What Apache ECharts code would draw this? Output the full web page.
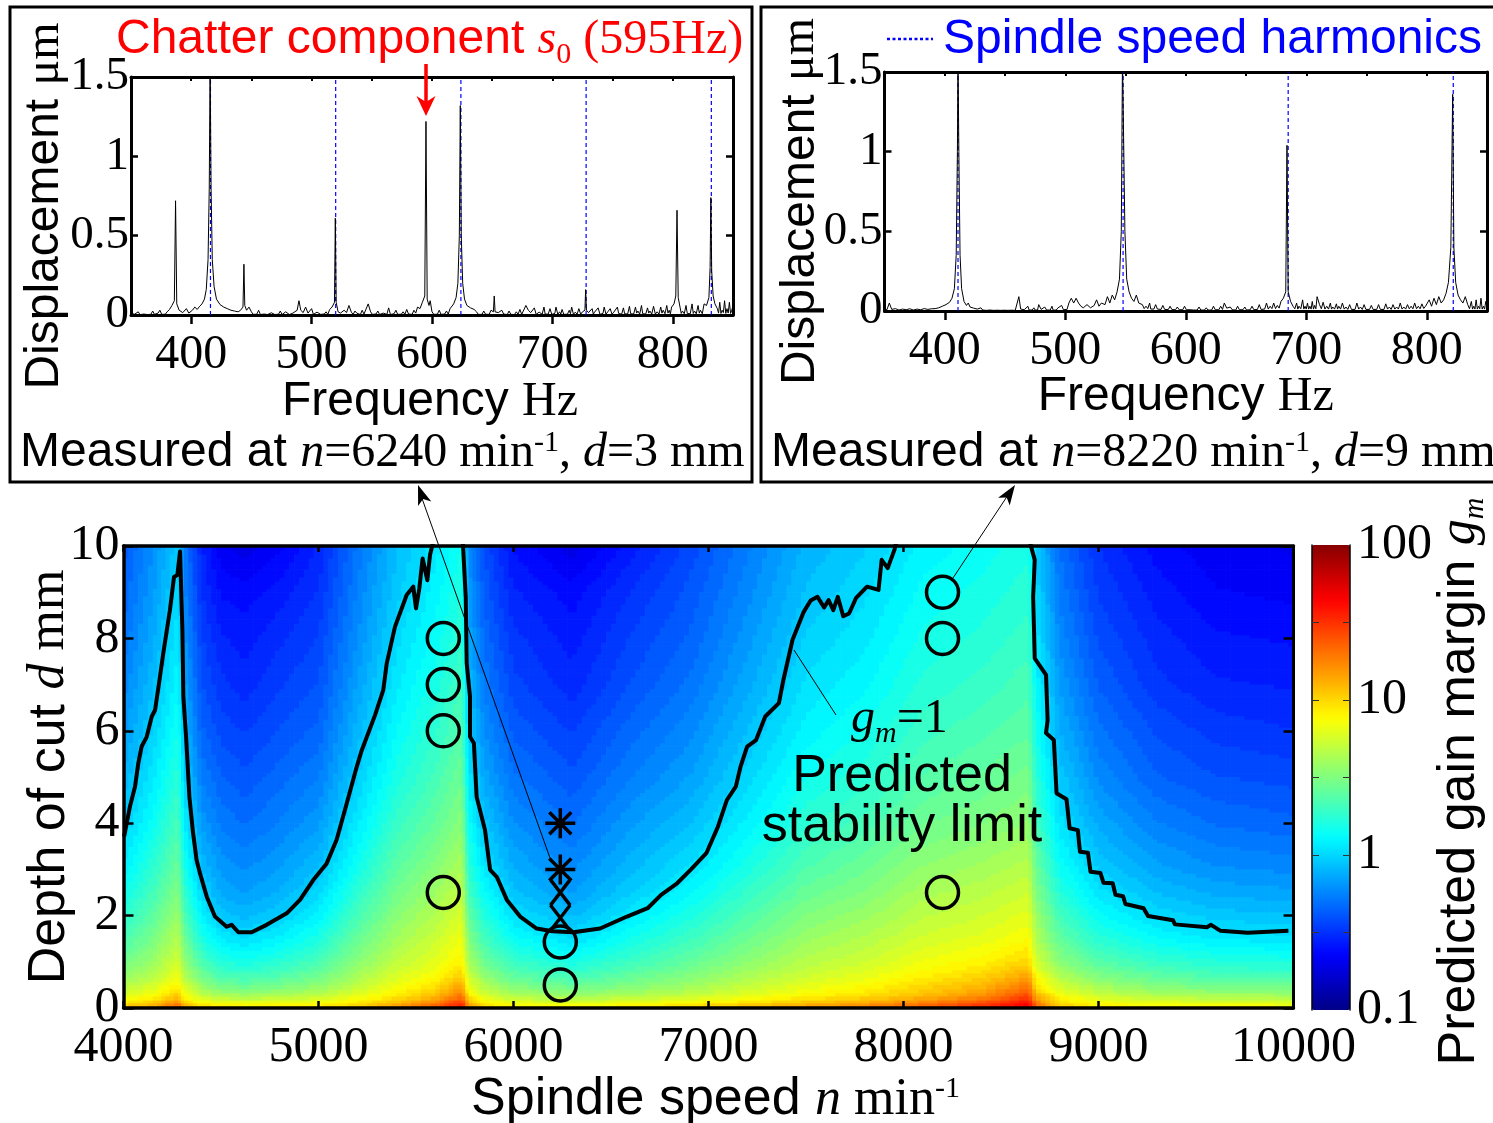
<!DOCTYPE html>
<html><head><meta charset="utf-8">
<style>html,body{margin:0;padding:0;background:#fff}#c{width:1493px;height:1123px}</style>
<script src="https://cdn.jsdelivr.net/npm/echarts@6/dist/echarts.min.js"></script>
</head><body><div id="c"></div>
<script>
const freqTicks = [400,500,600,700,800];
const colorbarLabels = [0.1,1,10,100];
const colorbarTicks = [0.316,1,3.16,10,31.6];
const harmonicsA = [416,520,624,728,832];
const harmonicsB = [411,548,685,822];

const spectrumA = [[350,.01],[353,.005],[356,.02],[359,.008],[362,.015],[365,.01],[368,.025],[371,.006],[374,.03],[377,.012],[380,.02],[382,.035],[384,.06],[386,.09],[387,.72],[388,.07],[390,.03],[393,.015],[396,.04],[398,.012],[401,.03],[403,.05],[405,.035],[407,.055],[409,.07],[411,.1],[412.5,.16],[414,.35],[415,.8],[415.7,1.6],[416.5,.8],[417.5,.35],[419,.18],[421,.1],[424,.065],[427,.05],[430,.04],[433,.03],[436,.025],[439,.02],[441,.03],[443,.05],[443.8,.32],[444.5,.06],[446,.03],[448,.05],[450,.02],[453,.012],[456,.03],[459,.01],[462,.018],[465,.008],[468,.02],[471,.012],[474,.025],[477,.01],[480,.015],[483,.008],[486,.02],[488,.03],[489.5,.09],[491,.03],[493,.015],[495,.05],[497,.012],[500,.04],[503,.01],[506,.03],[509,.012],[512,.02],[515,.035],[517,.05],[519,.08],[519.7,.61],[520.4,.08],[522,.02],[524,.012],[527,.03],[529,.015],[531,.06],[533,.018],[536,.025],[539,.01],[542,.03],[545,.015],[547,.07],[549,.02],[552,.012],[555,.025],[558,.01],[561,.02],[564,.045],[567,.012],[570,.03],[573,.015],[576,.02],[579,.035],[582,.012],[585,.03],[588,.05],[590,.04],[592,.08],[594,.12],[595,1.22],[596,.1],[597.5,.06],[598.5,.09],[600,.02],[603,.015],[606,.03],[609,.012],[612,.025],[615,.04],[618,.07],[620,.11],[621.5,.2],[622.7,.5],[623.5,1.32],[624.3,.5],[625.5,.2],[627,.1],[629,.06],[632,.045],[635,.035],[637,.02],[640,.015],[643,.025],[646,.012],[649,.03],[651,.02],[651.7,.12],[652.4,.02],[655,.015],[658,.03],[661,.012],[664,.025],[667,.01],[670,.02],[673,.035],[676,.015],[678,.06],[680,.03],[682,.015],[685,.045],[688,.012],[690,.03],[693,.05],[695,.018],[698,.04],[701,.015],[703,.05],[706,.02],[708,.035],[711,.012],[714,.03],[716,.05],[719,.018],[722,.04],[725,.02],[727,.03],[727.6,.16],[728.3,.03],[730,.015],[733,.04],[735,.018],[738,.045],[741,.015],[743,.05],[746,.02],[748,.04],[751,.018],[754,.05],[756,.02],[759,.045],[761,.02],[764,.055],[766,.02],[769,.05],[771,.025],[774,.06],[776,.02],[779,.045],[781,.025],[784,.055],[787,.02],[790,.05],[792,.03],[795,.06],[797,.03],[799,.05],[801,.07],[802.5,.12],[803.5,.66],[804.5,.11],[806,.05],[808,.025],[811,.06],[813,.02],[816,.07],[818,.025],[821,.06],[823,.03],[826,.07],[828,.06],[830,.11],[831,.3],[831.6,.74],[832.3,.28],[833.5,.12],[835,.07],[837,.04],[839,.08],[841,.03],[843,.09],[845,.04],[847,.08],[849,.03],[850,.06]];
const floorA = [[351.5,.003],[354.5,.012],[357.5,.002],[360.5,.006],[363.5,.003],[366.5,.004],[369.5,.004],[372.5,.012],[375.5,.004],[378.5,.005],[451.5,.004],[454.5,.005],[457.5,.003],[460.5,.006],[463.5,.003],[466.5,.014],[469.5,.003],[472.5,.005],[475.5,.003],[478.5,.02],[481.5,.003],[484.5,.012],[501.5,.004],[504.5,.018],[507.5,.004],[510.5,.006],[513.5,.004],[525.5,.022],[530,.004],[534.5,.004],[537.5,.012],[540.5,.003],[543.5,.006],[550.5,.004],[553.5,.006],[556.5,.003],[559.5,.012],[562.5,.004],[565.5,.003],[568.5,.008],[571.5,.004],[574.5,.005],[577.5,.004],[580.5,.006],[583.5,.004],[586.5,.012],[601.5,.004],[604.5,.005],[607.5,.004],[610.5,.006],[613.5,.006],[638.5,.004],[641.5,.004],[644.5,.005],[647.5,.004],[656.5,.004],[659.5,.006],[662.5,.003],[665.5,.004],[668.5,.003],[671.5,.005],[674.5,.004],[683.5,.004],[686.5,.004],[689,.018],[691.5,.005],[694,.006],[696.5,.005],[699.5,.004],[702,.01],[704.5,.004],[707,.006],[709.5,.004],[712.5,.005],[715,.008],[717.5,.004],[720.5,.005],[723.5,.005],[731.5,.005],[734,.005],[736.5,.006],[739.5,.004],[742,.01],[744.5,.005],[747,.008],[749.5,.005],[752.5,.006],[755,.01],[757.5,.005],[760,.008],[762.5,.006],[765,.008],[767.5,.006],[770,.012],[772.5,.006],[775,.008],[777.5,.006],[780,.012],[782.5,.006],[785.5,.006],[788.5,.006],[791,.012],[793.5,.008],[796,.012],[798,.008],[807,.01],[809.5,.008],[812,.01],[814.5,.008],[817,.01],[819.5,.008],[822,.012],[824.5,.008],[838,.012],[840,.01],[842,.015],[844,.01],[846,.012],[848,.01]];

const spectrumB = [[350,.012],[352,.008],[354,.05],[356,.01],[359,.015],[362,.006],[365,.012],[368,.008],[371,.014],[374,.006],[377,.012],[380,.008],[383,.015],[386,.01],[389,.014],[392,.015],[395,.02],[398,.03],[401,.04],[404,.055],[406,.08],[408,.14],[409.5,.35],[410.5,1],[411,1.6],[411.7,1],[412.7,.35],[414,.14],[416,.06],[418,.035],[419.5,.05],[421,.025],[424,.018],[427,.012],[430,.02],[433,.008],[436,.014],[439,.01],[442,.012],[445,.007],[448,.014],[451,.008],[454,.012],[457,.008],[460,.012],[461.5,.09],[463,.012],[466,.008],[469,.03],[471,.01],[474,.02],[476,.012],[478,.04],[480,.01],[483,.025],[486,.012],[489,.03],[491,.012],[494,.02],[497,.035],[500,.015],[503,.05],[505,.08],[507,.05],[509,.08],[511,.05],[513,.03],[515,.02],[518,.04],[521,.02],[524,.035],[526,.07],[528,.03],[530,.05],[533,.04],[535,.09],[537,.05],[539,.1],[541,.07],[543,.12],[545,.2],[546.5,.5],[547.5,1.6],[548.5,1.6],[549.5,.5],[551,.2],[553,.12],[555,.08],[557,.06],[559,.1],[561,.05],[564,.04],[567,.03],[570,.05],[572,.02],[575,.04],[578,.02],[581,.035],[584,.018],[587,.03],[590,.015],[593,.025],[596,.012],[599,.03],[602,.015],[605,.02],[608,.01],[611,.025],[614,.012],[617,.02],[620,.01],[623,.03],[626,.015],[629,.03],[632,.05],[634,.018],[637,.025],[640,.012],[643,.03],[646,.015],[649,.025],[652,.012],[655,.03],[658,.02],[661,.04],[664,.02],[667,.05],[670,.03],[673,.05],[676,.035],[679,.06],[681,.08],[683,.12],[684,1.04],[685,.12],[687,.06],[689,.03],[692,.05],[694,.03],[697,.07],[699,.03],[701,.05],[703,.03],[705,.06],[707,.035],[709,.09],[711,.04],[714,.055],[717,.03],[720,.05],[722,.025],[725,.045],[727,.03],[730,.05],[733,.025],[736,.04],[739,.02],[742,.05],[745,.025],[748,.04],[751,.02],[754,.035],[757,.02],[760,.04],[763,.02],[766,.045],[769,.025],[772,.04],[775,.025],[778,.05],[781,.025],[784,.04],[787,.03],[790,.05],[793,.03],[796,.045],[799,.03],[802,.07],[804,.03],[806,.08],[808,.04],[810,.09],[812,.05],[814,.07],[816,.11],[818,.18],[820,.4],[821.5,1.36],[822.5,.4],[824,.18],[826,.1],[828,.07],[830,.05],[832,.09],[834,.04],[837,.06],[839,.03],[841,.07],[843,.03],[845,.08],[847,.03],[849,.06],[850,.03]];
const floorB = [[357.5,.004],[360.5,.005],[363.5,.003],[366.5,.005],[369.5,.004],[372.5,.005],[375.5,.003],[378.5,.005],[381.5,.004],[384.5,.006],[387.5,.005],[425.5,.006],[428.5,.005],[431.5,.006],[434.5,.004],[437.5,.006],[440.5,.004],[443.5,.005],[446.5,.004],[449.5,.005],[452.5,.004],[455.5,.005],[458.5,.004],[464.5,.005],[467.5,.006],[470,.006],[472.5,.006],[475,.006],[477,.006],[481.5,.006],[484.5,.006],[487.5,.006],[490,.005],[492.5,.006],[495.5,.008],[498.5,.008],[501.5,.01],[565.5,.015],[568.5,.015],[571,.012],[573.5,.012],[576.5,.012],[579.5,.01],[582.5,.01],[585.5,.009],[588.5,.009],[591.5,.008],[594.5,.008],[597.5,.008],[600.5,.008],[603.5,.008],[606.5,.006],[609.5,.006],[612.5,.006],[615.5,.006],[618.5,.006],[621.5,.006],[624.5,.008],[627.5,.008],[630.5,.01],[635.5,.008],[638.5,.008],[641.5,.006],[644.5,.008],[647.5,.008],[650.5,.006],[653.5,.008],[656.5,.008],[659.5,.01],[662.5,.01],[665.5,.012],[668.5,.012],[671.5,.015],[674.5,.015],[677.5,.018],[690.5,.014],[693,.012],[695.5,.014],[698,.012],[700,.012],[702,.012],[704,.012],[706,.012],[708,.014],[712.5,.014],[715.5,.012],[718.5,.012],[721,.012],[723.5,.012],[726,.012],[728.5,.012],[731.5,.012],[734.5,.01],[737.5,.01],[740.5,.01],[743.5,.012],[746.5,.01],[749.5,.01],[752.5,.01],[755.5,.01],[758.5,.01],[761.5,.01],[764.5,.01],[767.5,.012],[770.5,.01],[773.5,.012],[776.5,.012],[779.5,.012],[782.5,.012],[785.5,.014],[788.5,.014],[791.5,.014],[794.5,.014],[797.5,.016],[800.5,.018],[835.5,.014],[838,.012],[840,.012],[842,.012],[844,.014],[846,.012],[848,.012]];

const stabilityLimit = [[4003,3.71],[4033,4.36],[4059,4.79],[4076,5.30],[4093,5.66],[4119,5.87],[4145,6.31],[4162,6.45],[4187,7.17],[4204,7.68],[4238,8.61],[4259,9.33],[4276,9.37],[4290,9.88],[4300,9.88],[4302,8.18],[4307,6.74],[4321,5.87],[4338,4.57],[4355,3.85],[4375,3.20],[4392,2.92],[4427,2.41],[4469,1.98],[4529,1.76],[4555,1.80],[4589,1.64],[4657,1.64],[4734,1.80],[4837,2.05],[4905,2.34],[4973,2.77],[5042,3.13],[5093,3.64],[5145,4.43],[5196,5.22],[5222,5.58],[5290,6.34],[5332,6.88],[5350,7.46],[5392,8.25],[5452,8.94],[5486,9.12],[5500,8.65],[5517,9.08],[5534,9.73],[5558,9.26],[5572,9.81],[5589,10.1],[5660,'-'],[5740,10.1],[5755,8.90],[5760,7.46],[5777,6.74],[5777,5.87],[5797,5.73],[5811,4.57],[5854,3.85],[5880,2.99],[5914,2.84],[5966,2.34],[6034,1.98],[6119,1.72],[6200,1.66],[6307,1.64],[6444,1.72],[6582,1.98],[6688,2.16],[6757,2.45],[6839,2.70],[6908,2.99],[6989,3.35],[7048,3.92],[7094,4.50],[7140,4.79],[7164,5.22],[7198,5.66],[7244,5.80],[7291,6.31],[7361,6.60],[7384,7.10],[7431,7.97],[7489,8.58],[7524,8.82],[7559,8.90],[7593,8.67],[7616,8.83],[7640,8.61],[7663,8.90],[7691,8.48],[7721,8.54],[7756,8.87],[7813,9.12],[7872,9.05],[7888,9.70],[7919,9.52],[7953,9.91],[7965,10.1],[8300,'-'],[8647,10.1],[8673,9.70],[8665,8.90],[8673,7.57],[8731,7.21],[8739,6.23],[8731,5.95],[8771,5.80],[8785,4.65],[8836,4.52],[8852,3.89],[8894,3.85],[8905,3.38],[8946,3.36],[8959,2.95],[9010,2.92],[9026,2.71],[9073,2.70],[9087,2.45],[9126,2.42],[9138,2.25],[9231,2.16],[9254,1.99],[9382,1.90],[9392,1.81],[9556,1.75],[9577,1.80],[9626,1.67],[9765,1.63],[9974,1.67]];

const stableCuts = [[5640,8],[5640,7],[5640,6],[5640,2.5],[6240,1.43],[6240,0.5],[8200,9],[8200,8],[8200,2.5]];
const marginalCuts = [[6240,2.5],[6240,1.95]];
const chatterCuts = [[6240,4],[6240,3]];

const speedLevels = [4000,4150,4280,4310,4400,4500,4620,4800,5000,5200,5400,5600,5735,5770,5850,6000,6300,6600,6900,7200,7500,7800,8100,8400,8640,8680,8800,9000,9300,9600,10000];
const depthLevels = [10,9,8,7,6,5,4,3,2.5,2,1.5,1,0.75,0.5,0.25,0.1,0];
const gainMargin = [
[.43,.62,.95,.55,.3,.22,.2,.23,.3,.52,.85,1.15,1.5,.62,.4,.26,.2,.28,.38,.55,.8,.95,1.25,1.4,1.6,.95,.5,.33,.25,.22,.21],
[.47,.68,1.05,.6,.33,.26,.25,.28,.33,.57,.93,1.27,1.65,.68,.44,.3,.25,.33,.42,.6,.88,1.05,1.38,1.54,1.76,1.05,.55,.36,.28,.24,.23],
[.52,.76,1.16,.67,.37,.3,.28,.32,.37,.63,1.04,1.4,1.83,.76,.49,.34,.28,.37,.46,.67,.98,1.16,1.53,1.71,1.95,1.16,.61,.4,.31,.27,.26],
[.59,.85,1.3,.75,.41,.34,.31,.36,.41,.71,1.16,1.58,2.06,.85,.55,.38,.31,.41,.52,.75,1.1,1.3,1.71,1.92,2.2,1.3,.69,.45,.34,.3,.29],
[.68,.98,1.5,.87,.47,.39,.36,.41,.47,.82,1.34,1.82,2.37,.98,.63,.44,.36,.48,.6,.87,1.26,1.5,1.98,2.2,2.5,1.5,.79,.52,.4,.35,.33],
[.8,1.15,1.76,1.02,.56,.46,.42,.48,.56,.96,1.57,2.13,2.78,1.15,.74,.52,.42,.56,.7,1.02,1.48,1.76,2.3,2.6,3.0,1.76,.93,.61,.46,.41,.39],
[.97,1.4,2.15,1.24,.68,.55,.5,.57,.68,1.18,1.92,2.6,3.4,1.4,.9,.63,.5,.68,.86,1.24,1.8,2.15,2.8,3.15,3.6,2.15,1.13,.75,.57,.5,.47],
[1.25,1.8,2.75,1.6,.88,.68,.62,.7,.88,1.5,2.5,3.35,4.4,1.8,1.17,.78,.62,.84,1.1,1.6,2.3,2.8,3.6,4.1,4.7,2.75,1.46,.96,.73,.64,.61],
[1.48,2.1,3.2,1.9,1.03,.76,.69,.79,1.03,1.8,2.9,3.9,5.0,2.1,1.38,.9,.69,.96,1.3,1.9,2.7,3.2,4.2,4.7,5.4,3.2,1.72,1.13,.86,.76,.72],
[1.8,2.5,3.8,2.3,1.26,.92,.84,.96,1.26,2.15,3.4,4.5,5.8,2.6,1.68,1.09,.84,1.17,1.6,2.3,3.2,3.8,4.8,5.4,6.3,3.8,2.1,1.38,1.05,.92,.88],
[2.2,3.0,4.6,2.9,1.6,1.19,1.08,1.24,1.6,2.7,4.0,5.3,6.8,3.2,2.1,1.4,1.08,1.5,2.0,2.8,3.8,4.5,5.6,6.3,7.5,4.5,2.6,1.75,1.35,1.19,1.13],
[2.9,3.8,5.6,3.7,2.2,1.7,1.55,1.75,2.2,3.4,4.9,6.3,8.2,4.2,2.8,1.95,1.55,2.0,2.6,3.5,4.6,5.4,6.8,8,10,5.6,3.4,2.4,1.9,1.7,1.6],
[3.5,4.4,6.5,4.4,2.8,2.1,1.95,2.2,2.7,4,5.6,7.2,10,5,3.4,2.4,1.95,2.5,3.1,4.1,5.2,6.2,7.8,9.5,13,7,4.2,3,2.4,2.1,2],
[4.4,5.5,8,5.5,3.6,2.8,2.6,2.9,3.4,4.8,6.8,9,13.5,6.5,4.4,3.1,2.6,3.1,3.8,4.9,6.2,7.4,9.5,12,18,9,5.4,3.9,3.1,2.8,2.7],
[6.2,7.5,11.5,7.5,5.2,4.4,4.2,4.5,5,6.5,8.8,12,20,9,6,4.6,4,4.5,5.2,6.5,8,9.5,12,16,27,13,7.5,5.5,4.6,4.3,4.2],
[9,11,18,11,8,7,6.8,7,7.5,9,12,18,32,13,8.5,6.8,6.5,7,8,9.5,11.5,14,18,26,42,19,9.5,7.5,6.8,6.5,6.3],
[14,16,28,18,12,10,10,10,10.5,12,18,30,45,18,11,9.5,9,10,12,15,18,22,30,38,50,25,12,9,8.5,8,8]
];

const SANS = '"Liberation Sans", Arial, sans-serif';
const SERIF = '"Liberation Serif", "Times New Roman", serif';
const richBase = (color, fs) => {
  const size = fs || 48;
  return {
    a: {fontFamily: SANS, fontSize: size, color},
    t: {fontFamily: SERIF, fontSize: size, color},
    i: {fontFamily: SERIF, fontStyle: 'italic', fontSize: size, color},
    sup: {fontFamily: SERIF, fontSize: 30, color, verticalAlign: 'top', lineHeight: 50},
    sub: {fontFamily: SERIF, fontSize: 30, color, verticalAlign: 'bottom', lineHeight: 60},
    subi: {fontFamily: SERIF, fontStyle: 'italic', fontSize: 30, color, verticalAlign: 'bottom', lineHeight: 60}
  };
};

function clamp01(v){return Math.max(0, Math.min(1, v));}
function jet(t){
  const r = clamp01(Math.min(4*t-1.5, -4*t+4.5));
  const g = clamp01(Math.min(4*t-0.5, -4*t+3.5));
  const b = clamp01(Math.min(4*t+0.5, -4*t+2.5));
  return 'rgb(' + Math.round(r*255) + ',' + Math.round(g*255) + ',' + Math.round(b*255) + ')';
}
const JET = [];
for (let i = 0; i < 64; i++) JET.push(jet((i+0.5)/64));
const logMin = -1, logMax = 2;
function bandColor(lg){
  const t = clamp01((lg-logMin)/(logMax-logMin));
  return JET[Math.min(63, Math.floor(t*64))];
}
const byFreq = (a, b) => a.concat(b).sort((p, q) => p[0]-q[0]);

const heatCells = [];
for (let j = 0; j < depthLevels.length-1; j++) {
  for (let i = 0; i < speedLevels.length-1; i++) {
    heatCells.push([
      speedLevels[i], speedLevels[i+1], depthLevels[j+1], depthLevels[j],
      Math.log10(gainMargin[j+1][i]), Math.log10(gainMargin[j+1][i+1]),
      Math.log10(gainMargin[j][i]), Math.log10(gainMargin[j][i+1])
    ]);
  }
}
function renderHeat(params, api){
  const a = api.coord([api.value(0), api.value(2)]);
  const b = api.coord([api.value(1), api.value(3)]);
  const w = b[0]-a[0], h = a[1]-b[1];
  const nx = Math.max(1, Math.ceil(w/5)), ny = Math.max(1, Math.ceil(h/4));
  const v00 = api.value(4), v10 = api.value(5), v01 = api.value(6), v11 = api.value(7);
  const children = [];
  for (let ix = 0; ix < nx; ix++) {
    const fx = (ix+0.5)/nx;
    for (let iy = 0; iy < ny; iy++) {
      const fy = (iy+0.5)/ny;
      const lg = (v00*(1-fx)+v10*fx)*(1-fy) + (v01*(1-fx)+v11*fx)*fy;
      children.push({type:'rect', silent:true,
        shape:{x:a[0]+w*ix/nx, y:a[1]-h*(iy+1)/ny, width:w/nx+0.7, height:h/ny+0.7},
        style:{fill:bandColor(lg)}});
    }
  }
  return {type:'group', children};
}

function freqX(grid, pos){
  return {type:'value', gridIndex:grid, position:pos, min:350, max:850,
    axisLine:{show:true,onZero:false,lineStyle:{color:'#000',width:3}}, splitLine:{show:false}};
}
function dispY(grid, pos){
  return {type:'value', gridIndex:grid, position:pos, min:0, max:1.5, interval:0.5,
    axisLine:{show:true,onZero:false,lineStyle:{color:'#000',width:3}}, splitLine:{show:false},
    axisTick:{inside:true,length:7,lineStyle:{color:'#000',width:2.5}}};
}
const freqName = '{a|Frequency }{t|Hz}';
const dispName = '{a|Displacement }{t|\u03bcm}';
const freqLabel = {customValues:freqTicks,margin:16,fontFamily:SERIF,fontSize:48,color:'#000'};
const freqTick = {customValues:freqTicks,inside:false,length:9,lineStyle:{color:'#000',width:2.5}};
const dispLabel = {margin:2,padding:[8,0,0,0],fontFamily:SERIF,fontSize:47,color:'#000',formatter:(v)=>String(v)};
const xAxes = [
  Object.assign(freqX(0,'bottom'), {name:freqName, nameLocation:'middle', nameMoveOverlap:false, nameGap:63, nameTextStyle:{rich:richBase('#000'), padding:[0,4,0,0]}, axisTick:freqTick, axisLabel:freqLabel}),
  Object.assign(freqX(0,'top'), {interval:50, axisLabel:{show:false}, axisTick:{inside:true,length:4,lineStyle:{color:'#000',width:2}}}),
  Object.assign(freqX(1,'bottom'), {name:freqName, nameLocation:'middle', nameMoveOverlap:false, nameGap:62, nameTextStyle:{rich:richBase('#000')}, axisTick:freqTick, axisLabel:freqLabel}),
  Object.assign(freqX(1,'top'), {interval:50, axisLabel:{show:false}, axisTick:{inside:true,length:4,lineStyle:{color:'#000',width:2}}}),
  {type:'value', gridIndex:2, position:'bottom', min:4000, max:10000, interval:1000,
    name:'{a|Spindle speed }{i|n }{t|min}{sup|-1}', nameLocation:'middle', nameMoveOverlap:false, nameGap:66, nameTextStyle:{rich:richBase('#000',52), padding:[0,0,0,14]},
    axisLine:{show:true,onZero:false,lineStyle:{color:'#000',width:3.5}}, splitLine:{show:false}, z:10,
    axisTick:{inside:true,length:7,lineStyle:{color:'#000',width:2.5}},
    axisLabel:{margin:15,fontFamily:SERIF,fontSize:50,color:'#000',formatter:(v)=>String(v)}},
  {type:'value', gridIndex:2, position:'top', min:4000, max:10000, interval:1000, z:10,
    axisLine:{show:true,onZero:false,lineStyle:{color:'#000',width:3.5}}, splitLine:{show:false},
    axisLabel:{show:false}, axisTick:{inside:true,length:6,lineStyle:{color:'#000',width:2.5}}},
  {type:'value', gridIndex:3, min:0, max:1, show:false}
];
const yAxes = [
  Object.assign(dispY(0,'left'), {name:dispName, nameLocation:'middle', nameMoveOverlap:false, nameRotate:90, nameGap:62,
    nameTextStyle:{rich:richBase('#000'), padding:[0,20,0,0]}, axisLabel:dispLabel}),
  Object.assign(dispY(0,'right'), {axisLabel:{show:false}}),
  Object.assign(dispY(1,'left'), {name:dispName, nameLocation:'middle', nameMoveOverlap:false, nameRotate:90, nameGap:60,
    nameTextStyle:{rich:richBase('#000'), padding:[0,20,0,0]}, axisLabel:dispLabel}),
  Object.assign(dispY(1,'right'), {axisLabel:{show:false}}),
  {type:'value', gridIndex:2, position:'left', min:0, max:10, interval:2, z:10,
    name:'{a|Depth of cut }{i|d }{t|mm}', nameLocation:'middle', nameMoveOverlap:false, nameRotate:90, nameGap:48, nameTextStyle:{rich:richBase('#000',52)},
    axisLine:{show:true,onZero:false,lineStyle:{color:'#000',width:3.5}}, splitLine:{show:false},
    axisTick:{inside:true,length:10,lineStyle:{color:'#000',width:2.5}},
    axisLabel:{margin:4,padding:[8,0,0,0],fontFamily:SERIF,fontSize:50,color:'#000'}},
  {type:'value', gridIndex:2, position:'right', min:0, max:10, interval:2, z:10,
    axisLine:{show:true,onZero:false,lineStyle:{color:'#000',width:3}}, splitLine:{show:false},
    axisLabel:{show:false}, axisTick:{inside:true,length:10,lineStyle:{color:'#000',width:2.5}}},
  {type:'log', logBase:10, gridIndex:3, position:'right', min:0.1, max:100, z:10,
    name:'{a|Predicted gain margin }{i|g}{subi|m}', nameLocation:'middle', nameMoveOverlap:false, nameRotate:90, nameGap:80,
    nameTextStyle:{rich:richBase('#000',52), padding:[0,8,0,0]},
    axisLine:{show:true,onZero:false,lineStyle:{color:'#000',width:1.5}}, splitLine:{show:false},
    axisTick:{customValues:colorbarTicks,inside:true,length:7,lineStyle:{color:'#333',width:1}},
    axisLabel:{customValues:colorbarLabels,margin:7,padding:[8,0,0,0],fontFamily:SERIF,fontSize:50,color:'#000',formatter:(v)=>String(v)}},
  {type:'log', logBase:10, gridIndex:3, position:'left', min:0.1, max:100, z:10,
    axisLine:{show:true,onZero:false,lineStyle:{color:'#000',width:1.5}}, splitLine:{show:false},
    axisTick:{customValues:colorbarTicks,inside:true,length:7,lineStyle:{color:'#333',width:1}},
    axisLabel:{show:false}}
];

function spectrumSeries(data, x, y){
  return {type:'line', xAxisIndex:x, yAxisIndex:y, data, symbol:'none', silent:true, z:3, clip:true,
    lineStyle:{color:'#000',width:1}};
}
function harmonicSeries(values, x, y){
  return values.map(v => ({type:'line', xAxisIndex:x, yAxisIndex:y, data:[[v,0],[v,1.5]], symbol:'none', silent:true, z:2,
    lineStyle:{color:'#0000ff',type:[4,3],width:1.2}}));
}
const markerStyle = {color:'transparent', borderColor:'#000', borderWidth:3.5, opacity:1};
const heatSeries = {type:'custom', xAxisIndex:4, yAxisIndex:4, data:heatCells, renderItem:renderHeat, silent:true, z:1, clip:true,
    encode:{x:[0,1], y:[2,3]}};
const series = [
  heatSeries,
  ...harmonicSeries(harmonicsA,0,0),
  spectrumSeries(byFreq(spectrumA,floorA),0,0),
  ...harmonicSeries(harmonicsB,2,2),
  spectrumSeries(byFreq(spectrumB,floorB),2,2),
  {type:'line', name:'Predicted stability limit', xAxisIndex:4, yAxisIndex:4, data:stabilityLimit, symbol:'none', silent:true, z:4, clip:true, connectNulls:false,
    lineStyle:{color:'#000',width:4,join:'round'}},
  {type:'scatter', xAxisIndex:4, yAxisIndex:4, data:stableCuts, symbol:'circle', symbolSize:32, silent:true, z:5, itemStyle:markerStyle},
  {type:'scatter', xAxisIndex:4, yAxisIndex:4, data:marginalCuts, symbol:'path://M-10 -12L10 12M-10 12L10 -12', symbolSize:[20,26], silent:true, z:5, itemStyle:markerStyle},
  {type:'scatter', xAxisIndex:4, yAxisIndex:4, data:chatterCuts, symbol:'path://M0 -15L0 15M-15 0L15 0M-11 -11L11 11M-11 11L11 -11', symbolSize:30, silent:true, z:5, itemStyle:markerStyle}
];

function label(x, y, text, color, extra){
  return Object.assign({type:'text', x, y, z:100, silent:true,
    style:{text, rich:richBase(color), textAlign:'left', textVerticalAlign:'middle', fill:color}}, extra||{});
}
function segment(x1,y1,x2,y2,color,width){
  return {type:'line', z:100, silent:true, shape:{x1,y1,x2,y2}, style:{stroke:color,lineWidth:width}};
}
function poly(points,fill){
  return {type:'polygon', z:100, silent:true, shape:{points}, style:{fill}};
}
const graphics = [
  {type:'rect', z:100, silent:true, shape:{x:10,y:7,width:742,height:475}, style:{fill:'none',stroke:'#000',lineWidth:3}},
  {type:'rect', z:100, silent:true, shape:{x:761,y:7,width:736,height:475}, style:{fill:'none',stroke:'#000',lineWidth:3}},
  label(116,40,'{a|Chatter component }{i|s}{sub|0}{t| (595Hz)}','#ff0000'),
  label(20,453,'{a|Measured at }{i|n}{t|=6240 min}{sup|-1}{t|, }{i|d}{t|=3 mm}','#000'),
  label(771,453,'{a|Measured at }{i|n}{t|=8220 min}{sup|-1}{t|, }{i|d}{t|=9 mm}','#000'),
  label(943,40,'{a|Spindle speed harmonics}','#0000ff'),
  {type:'line', z:100, silent:true, shape:{x1:887,y1:39,x2:933,y2:39}, style:{stroke:'#0000ff',lineWidth:2.5,lineDash:[3,2.5]}},
  segment(426,64,426,103,'#ff0000',3.5),
  poly([[426,116],[416.5,96],[426,102],[435.5,96]],'#ff0000'),
  segment(419,490,550,858,'#000',1),
  poly([[418,485],[431.3,501.5],[423,499.1],[418.1,506.1]],'#000'),
  segment(1012,489,953,578,'#000',1),
  poly([[1015,485],[1009.7,505.5],[1006.7,497.5],[998.1,497.7]],'#000'),
  segment(794,650,836,715,'#000',1),
  label(851,719,'{i|g}{subi|m}{t|=1}','#000'),
  {type:'text', x:902, y:777, z:100, silent:true, style:{text:'Predicted', fontFamily:SANS, fontSize:52, fill:'#000', textAlign:'center', textVerticalAlign:'middle'}},
  {type:'text', x:902, y:827, z:100, silent:true, style:{text:'stability limit', fontFamily:SANS, fontSize:52, fill:'#000', textAlign:'center', textVerticalAlign:'middle'}}
];

const chart = echarts.init(document.getElementById('c'), null, {renderer:'canvas', width:1493, height:1123});
chart.setOption({
  animation:false,
  backgroundColor:'#fff',
  textStyle:{fontFamily:SANS},
  grid:[
    {left:131, width:602, top:77, height:238, outerBoundsMode:'none'},
    {left:884.5, width:602.5, top:72, height:239, outerBoundsMode:'none'},
    {left:123.5, width:1170, top:546, height:462, outerBoundsMode:'none'},
    {left:1312, width:38, top:545, height:465, outerBoundsMode:'none'}
  ],
  xAxis:xAxes,
  yAxis:yAxes,
  visualMap:[{type:'continuous', seriesIndex:0, dimension:4, min:logMin, max:logMax, calculable:false, show:true,
    left:1312, top:545, itemWidth:38, itemHeight:465, padding:0, hoverLink:false, realtime:false, z:4,
    inRange:{color:JET}, outOfRange:{color:JET[0]}, text:null, showLabel:false}],
  series,
  graphic:{elements:graphics}
});
</script></body></html>
